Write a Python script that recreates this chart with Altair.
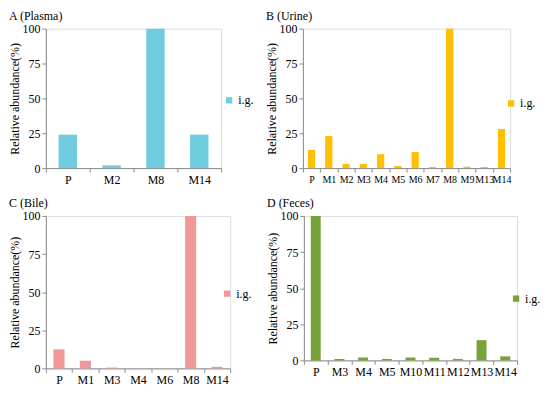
import altair as alt
import pandas as pd

FONT = "Liberation Serif"

# Panel A (Plasma)
a_cats = ["P", "M2", "M8", "M14"]
a_vals = [24, 2, 100, 24]
# Panel B (Urine)
b_cats = ["P", "M1", "M2", "M3", "M4", "M5", "M6", "M7", "M8", "M9", "M13", "M14"]
b_vals = [13, 23, 3, 3, 10, 1.5, 11.5, 0.8, 100, 1, 0.8, 28]
# Panel C (Bile)
c_cats = ["P", "M1", "M3", "M4", "M6", "M8", "M14"]
c_vals = [12.5, 5, 0.5, 0, 0, 100, 1]
# Panel D (Feces)
d_cats = ["P", "M3", "M4", "M5", "M10", "M11", "M12", "M13", "M14"]
d_vals = [100, 1, 2, 1, 2, 1.8, 1, 14, 2.8]

series = "i.g."
y_ticks = [0, 25, 50, 75, 100]


def panel(cats, vals, color, title, w, h, lx, ly, toff=0, xfs=12):
    df = pd.DataFrame({"cat": cats, "val": vals, "series": [series] * len(cats)})
    return (
        alt.Chart(
            df,
            title=alt.TitleParams(
                title, anchor="start", frame="bounds", font=FONT, fontSize=12,
                fontWeight="normal", color="black", offset=toff,
            ),
        )
        .mark_bar(width=alt.RelativeBandSize(0.42))
        .encode(
            x=alt.X(
                "cat:N", sort=cats, title=None,
                scale=alt.Scale(paddingInner=0, paddingOuter=0),
                axis=alt.Axis(
                    labelAngle=0, tickBand="extent", labelFont=FONT, labelFontSize=xfs,
                    labelColor="black", domainColor="#8c8c8c", tickColor="#8c8c8c",
                    tickSize=4, labelPadding=2, labelOverlap=False,
                ),
            ),
            y=alt.Y(
                "val:Q", scale=alt.Scale(domain=[0, 100]),
                axis=alt.Axis(
                    values=y_ticks, title="Relative abundance(%)", grid=False,
                    labelFont=FONT, labelFontSize=12, labelColor="black", labelPadding=2,
                    titleFont=FONT, titleFontSize=12, titleFontWeight="normal",
                    titleColor="black", domainColor="#8c8c8c", tickColor="#8c8c8c",
                    tickSize=4, titlePadding=0,
                ),
            ),
            color=alt.Color(
                "series:N", scale=alt.Scale(range=[color]),
                legend=alt.Legend(
                    orient="none", legendX=lx, legendY=ly, title=None,
                    symbolType="square", symbolSize=40, symbolStrokeWidth=0,
                    labelFont=FONT, labelFontSize=12, labelColor="black", padding=0,
                    labelOffset=3,
                ),
            ),
        )
        .properties(width=w, height=h)
    )


A = panel(a_cats, a_vals, "#70cde0", "A (Plasma)", 176, 140, 178, 66)
B = panel(b_cats, b_vals, "#ffc000", "B (Urine)", 208, 140, 203, 69, xfs=10)
C = panel(c_cats, c_vals, "#f09898", "C (Bile)", 185, 153, 176, 72)
D = panel(d_cats, d_vals, "#77a23a", "D (Feces)", 214, 145, 207, 77)

row1 = alt.hconcat(A, B, spacing=10).resolve_scale(color="independent")
row2 = alt.hconcat(C, D, spacing=13).resolve_scale(color="independent")

chart = (
    alt.vconcat(row1, row2, spacing=10)
    .resolve_scale(color="independent")
    .configure_view(stroke=None)
    .configure(padding=0)
)

chart.save("out.html", embed_options={"renderer": "svg", "actions": False})
